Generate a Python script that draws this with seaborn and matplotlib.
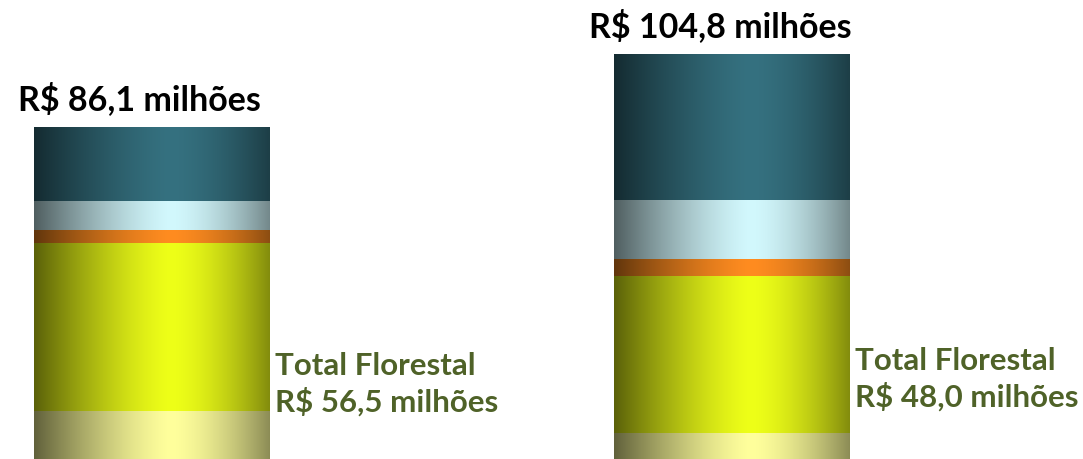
import numpy as np
import pandas as pd
import matplotlib
matplotlib.use('Agg')
import matplotlib.pyplot as plt
from matplotlib.colors import to_rgb
import seaborn as sns

# Data (R$ milhões), segments from bottom to top
periodos = ['Período 1', 'Período 2']
seg_florestal_base = [13.5, 7.8]
seg_florestal = [43.0, 40.2]
seg_laranja = [3.3, 4.4]
seg_ciano = [7.5, 15.1]
seg_teal = [18.8, 37.3]
totais = [86.1, 104.8]
total_florestal = [56.5, 48.0]
rotulos_total = ['R$ 86,1 milhões', 'R$ 104,8 milhões']
rotulos_florestal = ['R$ 56,5 milhões', 'R$ 48,0 milhões']

seg_names = ['florestal_base', 'florestal', 'laranja', 'ciano', 'teal']
seg_colors = {
    'florestal_base': '#ffff9c',
    'florestal': '#eeff18',
    'laranja': '#ff8c20',
    'ciano': '#d2f8fd',
    'teal': '#357180',
}

df = pd.DataFrame({
    'periodo': periodos,
    'florestal_base': seg_florestal_base,
    'florestal': seg_florestal,
    'laranja': seg_laranja,
    'ciano': seg_ciano,
    'teal': seg_teal,
})
cum = df[seg_names].cumsum(axis=1)

sns.set_theme(style='white')
plt.rcParams['font.family'] = ['Lato', 'DejaVu Sans']

fig = plt.figure(figsize=(10.83, 4.59), dpi=100)
ax = fig.add_axes([0, 0, 1, 1])

# stacked bars drawn as overlapping cumulative bars (top segment first)
bar_w = 0.405
order = list(reversed(seg_names))
for name in order:
    sns.barplot(x=df['periodo'], y=cum[name], color=seg_colors[name],
                width=bar_w, saturation=1, ax=ax, linewidth=0)

# cylinder-like shading: replace each flat bar by a horizontal gradient
t = np.linspace(0, 1, 256)
peak = 0.58
prof = np.where(t < peak,
                1 - 0.62 * ((peak - t) / peak) ** 1.4,
                1 - 0.45 * ((t - peak) / (1 - peak)) ** 1.6)
patch_colors = [seg_colors[n] for n in order for _ in periodos]
for k, (p, col) in enumerate(zip(ax.patches, patch_colors)):
    x0, y0 = p.get_x(), p.get_y()
    w, h = p.get_width(), p.get_height()
    img = np.clip(np.array(to_rgb(col))[None, None, :] * prof[None, :, None], 0, 1)
    ax.imshow(img, extent=[x0, x0 + w, y0, y0 + h], aspect='auto',
              interpolation='bilinear', zorder=2 + k * 0.01)
    p.set_visible(False)

# labels
for i in range(len(periodos)):
    ax.text(i - 0.02, totais[i] + 4.6, rotulos_total[i], ha='center',
            va='baseline', fontsize=24.5, fontweight='bold', color='black')

florestal_y = [22.8, 24.1]
for i in range(len(periodos)):
    ax.text(i + bar_w / 2 + 0.01, florestal_y[i], 'Total Florestal', ha='left',
            va='baseline', fontsize=22.5, fontweight='bold', color='#4f6228')
    ax.text(i + bar_w / 2 + 0.01, florestal_y[i] - 9.4, rotulos_florestal[i],
            ha='left', va='baseline', fontsize=22.5, fontweight='bold', color='#4f6228')

ax.set_xlim(-0.261, 1.605)
ax.set_ylim(1.31, 118.88)
ax.axis('off')

fig.savefig('out.png', dpi=100)
